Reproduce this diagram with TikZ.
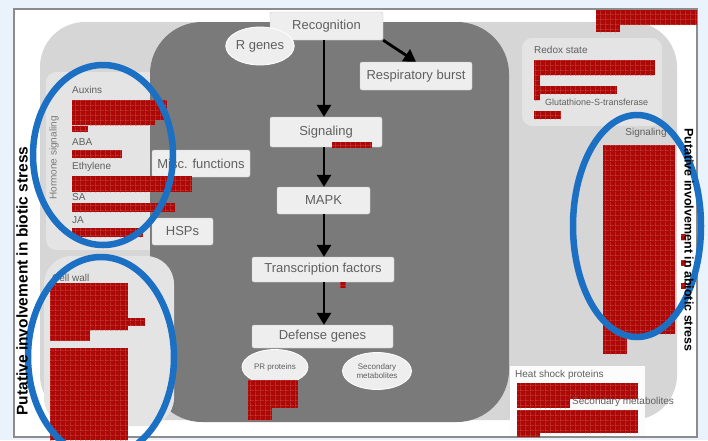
\documentclass[tikz,border=0pt]{standalone}
\usepackage{fontspec}
\setmainfont{Liberation Sans}
\usepackage{xcolor}
\usetikzlibrary{positioning,arrows.meta,shapes.geometric,patterns}

\definecolor{bgblue}{RGB}{234,243,252}
\definecolor{framegray}{RGB}{140,140,140}
\definecolor{panelgray}{RGB}{214,214,214}
\definecolor{panellight}{RGB}{228,228,228}
\definecolor{coregray}{RGB}{122,122,122}
\definecolor{boxfill}{RGB}{238,238,238}
\definecolor{boxline}{RGB}{200,200,200}
\definecolor{txtgray}{RGB}{95,95,95}
\definecolor{cellred}{RGB}{172,8,8}
\definecolor{cellline}{RGB}{214,96,86}
\definecolor{loopblue}{RGB}{28,112,196}

% grid of small squares inside the red blocks
\pgfdeclarepatternformonly{cellgrid}{\pgfpointorigin}{\pgfpoint{5pt}{5pt}}{\pgfpoint{5pt}{5pt}}{
  \pgfsetlinewidth{0.6pt}
  \pgfpathmoveto{\pgfpoint{0pt}{0pt}}\pgfpathlineto{\pgfpoint{5pt}{0pt}}
  \pgfpathmoveto{\pgfpoint{0pt}{0pt}}\pgfpathlineto{\pgfpoint{0pt}{5pt}}
  \pgfusepath{stroke}}

\tikzset{
  stepbox/.style={draw=boxline, fill=boxfill, rounded corners=2pt, text=txtgray,
    font=\fontsize{13}{14}\selectfont, inner sep=0pt},
  genebubble/.style={ellipse, draw=white, line width=0.8pt, fill=boxfill, text=txtgray,
    inner sep=0pt, align=center},
  flow/.style={line width=2.8pt, -{Triangle[width=14pt,length=12pt]}},
  redcells/.style={fill=cellred, postaction={pattern=cellgrid, pattern color=cellline}},
  smalltxt/.style={text=txtgray, font=\fontsize{10}{11}\selectfont, inner sep=0pt, anchor=west},
  sidetext/.style={font=\bfseries\fontsize{15.5}{16}\selectfont, inner sep=0pt},
  blueloop/.style={draw=loopblue, line width=6.5pt}
}

\begin{document}
\begin{tikzpicture}[x=1pt,y=-1pt]
  \useasboundingbox (0,0) rectangle (708,440);
  \fill[bgblue] (0,0) rectangle (708,440); % background
  \filldraw[fill=white, draw=framegray, line width=1.2pt] (14,9) rectangle (697,437); % frame
  \fill[panelgray, rounded corners=45pt] (40,22) rectangle (677,420); % light region
  \fill[panellight, rounded corners=10pt] (46,72) rectangle (160,250);
  \fill[panellight, rounded corners=10pt] (522,38) rectangle (662,126);
  \fill[coregray, rounded corners=52pt] (150,22) rectangle (509,422); % dark core
  \fill[panellight, rounded corners=28pt] (44,256) rectangle (174,426);
  \fill[white!94!panelgray] (510,366) rectangle (645,436);

  % pathway
  \coordinate (spine) at (324,0);
  \node[stepbox, minimum width=113pt, minimum height=28pt] (rec) at (326.5,26) {Recognition};
  \node[genebubble, minimum width=64pt, minimum height=38pt, font=\fontsize{13}{14}\selectfont] (rgenes) at (260,46) {R genes};
  \node[stepbox, minimum width=112pt, minimum height=28pt] (resp) at (416,76) {Respiratory burst};
  \node[stepbox, minimum width=112pt, minimum height=30pt] (sig) at (326,132) {Signaling};
  \node[stepbox, minimum width=93pt, minimum height=27pt] (mapk) at (323.5,200.5) {MAPK};
  \node[stepbox, minimum width=142pt, minimum height=25pt] (tf) at (323,269.5) {Transcription factors};
  \node[stepbox, minimum width=141pt, minimum height=23pt] (dg) at (322.5,336.5) {Defense genes};
  \node[genebubble, minimum width=66pt, minimum height=35pt, font=\fontsize{8}{9}\selectfont] (prp) at (275,367) {PR proteins};
  \node[genebubble, minimum width=69pt, minimum height=37pt, font=\fontsize{8}{9}\selectfont] (secm) at (377,371) {Secondary\\metabolites};
  \node[stepbox, minimum width=98pt, minimum height=27pt] (misc) at (201,163.5) {Misc. functions};
  \node[stepbox, minimum width=61pt, minimum height=27pt] (hsp) at (182.5,231.5) {HSPs};

  \draw[flow] (rec.south -| spine) -- (sig.north -| spine);
  \draw[flow] (rec.south east) -- (resp.north);
  \draw[flow] (sig.south -| spine) -- (mapk.north -| spine);
  \draw[flow] (mapk.south -| spine) -- (tf.north -| spine);
  \draw[flow] (tf.south -| spine) -- (dg.north -| spine);

  \fill[redcells] (332,142) rectangle (372,148); % under signaling
  \fill[redcells] (340,282) rectangle (346,288);
  \fill[redcells] (248,380) rectangle (298,408); % PR proteins
  \fill[redcells] (248,408) rectangle (272,420);

  % hormone signaling
  \node[smalltxt] (auxlbl) at (72,90) {Auxins};
  \fill[redcells] (72,100) rectangle (167,120);
  \fill[redcells] (72,120) rectangle (155,125);
  \fill[redcells] (72,126) rectangle (88,132);
  \node[smalltxt] (abalbl) at (72,142) {ABA};
  \fill[redcells] (72,150) rectangle (122,158);
  \node[smalltxt] (ethlbl) at (72,167) {Ethylene};
  \fill[redcells] (72,176) rectangle (192,192);
  \node[smalltxt] (salbl) at (72,197) {SA};
  \fill[redcells] (72,203) rectangle (175,212);
  \node[smalltxt] (jalbl) at (72,220) {JA};
  \fill[redcells] (72,228) rectangle (143,237);
  \node[text=coregray, font=\fontsize{10}{11}\selectfont, inner sep=0pt, rotate=90] (hormlbl) at (54,158) {Hormone signaling};

  % cell wall
  \node[smalltxt] (wall) at (52,278) {Cell wall};
  \fill[redcells] (50,283) rectangle (128,330);
  \fill[redcells] (50,318) rectangle (145,326);
  \fill[redcells] (50,330) rectangle (90,341);
  \fill[redcells] (50,348) rectangle (128,440);

  % redox state
  \node[smalltxt] (redox) at (534,50) {Redox state};
  \fill[redcells] (534,60) rectangle (655,75);
  \fill[redcells] (534,75) rectangle (540,100);
  \fill[redcells] (537,86) rectangle (617,94);
  \node[smalltxt, font=\fontsize{9}{10}\selectfont] (gst) at (545,102) {Glutathione-S-transferase};
  \fill[redcells] (534,111) rectangle (561,119);
  \fill[redcells] (596,10) rectangle (697,25); % top right
  \fill[redcells] (596,25) rectangle (620,32);

  % abiotic signaling
  \node[smalltxt, anchor=center] (siglbl) at (646,133) {Signaling};
  \fill[redcells] (603,145) rectangle (675,334);
  \fill[redcells] (603,334) rectangle (627,354);
  \fill[redcells] (681,234) rectangle (686,240);
  \fill[redcells] (681,260) rectangle (686,266);
  \fill[redcells] (681,283) rectangle (686,289);

  % heat shock
  \node[smalltxt] (hsplbl) at (515,375) {Heat shock proteins};
  \fill[redcells] (517,383) rectangle (638,399);
  \fill[redcells] (517,399) rectangle (570,408);
  \node[smalltxt] (secmlbl) at (572,402) {Secondary metabolites};
  \fill[redcells] (517,410) rectangle (638,433);
  \fill[redcells] (517,433) rectangle (540,437);

  % circled groups
  \draw[blueloop] (103,155) ellipse [x radius=70, y radius=90];
  \draw[blueloop] (101,357) ellipse [x radius=73, y radius=100];
  \draw[blueloop] (637,226) ellipse [x radius=64, y radius=111];

  \node[sidetext, rotate=90] (biotic) at (22,281) {Putative involvement in biotic stress};
  \node[sidetext, rotate=-90, font=\bfseries\fontsize{12.5}{13}\selectfont] (abiotic) at (689,240) {Putative involvement in abiotic stress};
\end{tikzpicture}
\end{document}
